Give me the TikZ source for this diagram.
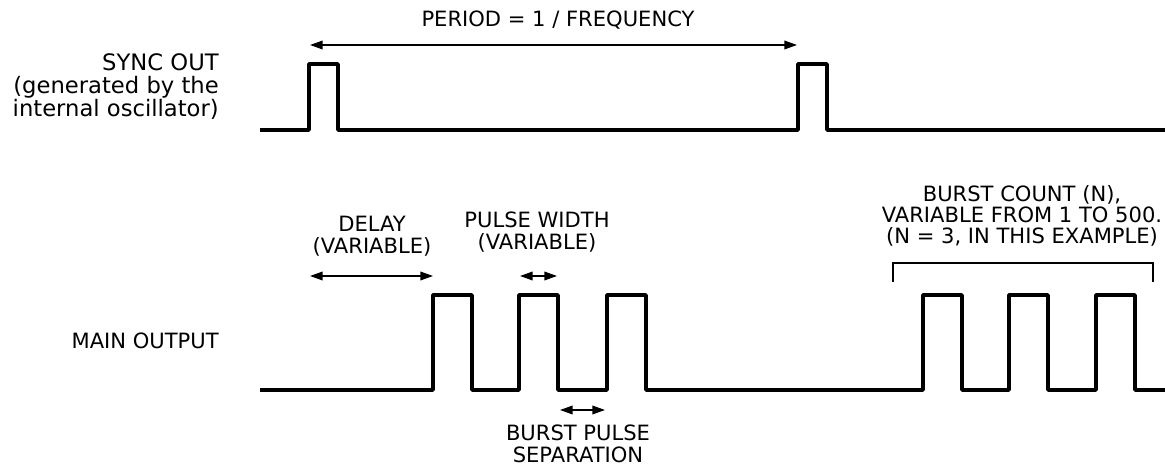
\documentclass[tikz,border=0pt]{standalone}
\usepackage{fontspec}
\setmainfont{DejaVu Sans}
\usetikzlibrary{arrows.meta,positioning}

\begin{document}
\begin{tikzpicture}[x=0.75pt, y=-0.75pt,
  wave/.style={line width=2.6pt, line join=round},
  dimarr/.style={{Triangle[length=9.5pt,width=6.5pt]}-{Triangle[length=9.5pt,width=6.5pt]}, line width=1.1pt},
  lbl/.style={font=\fontsize{15.8}{16.8}\selectfont, align=center, inner sep=0pt},
  brk/.style={line width=1pt}]
\useasboundingbox (0,0) rectangle (1165,466);

% sync out
\node[lbl] (period) at (558,20) {PERIOD = 1 / FREQUENCY};
\node[lbl, align=right, anchor=east, font=\fontsize{17}{17.3}\selectfont] (sync) at (219,87)
  {SYNC OUT\\(generated by the\\internal oscillator)};
\draw[wave] (260,130) \foreach \a/\b in {309/338,798/827}{ -- (\a,130) -- (\a,64) -- (\b,64) -- (\b,130)} -- (1165,130);
\coordinate (perL) at (310,45);
\coordinate (perR) at (797,45);
\draw[dimarr] (perL) -- (perR);

% main output
\node[lbl, anchor=east] (main) at (219,341) {MAIN OUTPUT};
\draw[wave] (260,390) \foreach \a/\b in {433/472,519/558,607/646,923/962,1009/1048,1096/1135}{ -- (\a,390) -- (\a,295) -- (\b,295) -- (\b,390)} -- (1165,390);

\node[lbl] (delay) at (372,236) {DELAY\\(VARIABLE)};
\coordinate (dlyL) at (310,276);
\coordinate (dlyR) at (433,276);
\draw[dimarr] (dlyL) -- (dlyR);

\node[lbl] (width) at (537,232) {PULSE WIDTH\\(VARIABLE)};
\coordinate (pwL) at (520,276);
\coordinate (pwR) at (557,276);
\draw[dimarr] (pwL) -- (pwR);

\node[lbl] (sep) at (578,444) {BURST PULSE\\SEPARATION};
\coordinate (sepL) at (560,410);
\coordinate (sepR) at (605,410);
\draw[dimarr] (sepL) -- (sepR);

\node[lbl, font=\fontsize{15.8}{15.6}\selectfont] (burst) at (1022,216)
  {BURST COUNT (N),\\VARIABLE FROM 1 TO 500.\\(N = 3, IN THIS EXAMPLE)};
\coordinate (brkL) at (893,282);
\coordinate (brkR) at (1153,282);
\draw[brk] (brkL) -- ++(0,-19) -| (brkR);
\end{tikzpicture}
\end{document}
